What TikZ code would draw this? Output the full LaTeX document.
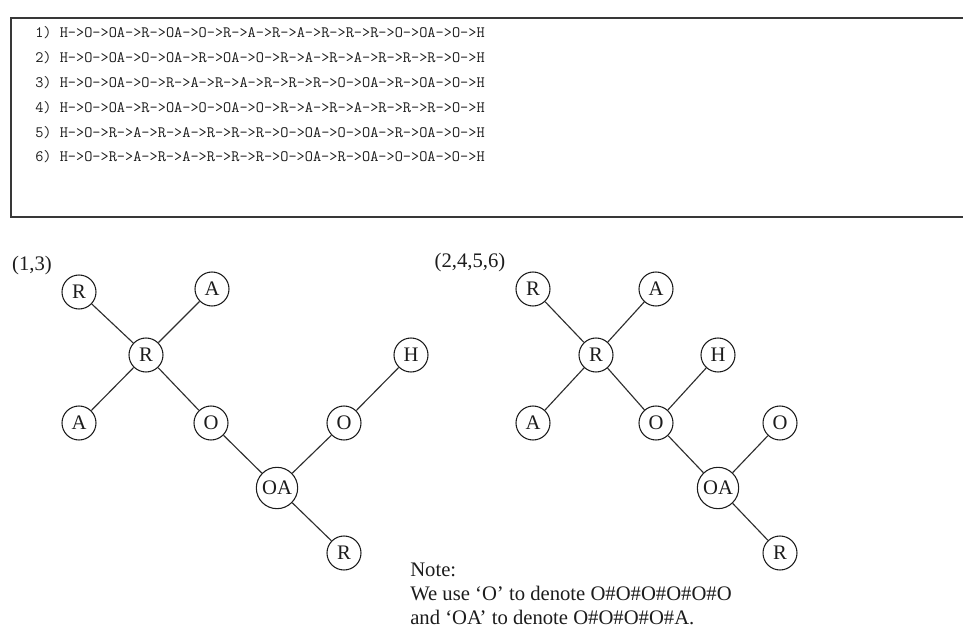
\documentclass[tikz,border=0pt]{standalone}
\usepackage{fontspec}
\setmainfont{Liberation Serif}
\usepackage{xcolor}
\usepackage{tikz}
\usetikzlibrary{positioning}
\definecolor{Ink}{HTML}{1C1C1C}
\definecolor{Frame}{HTML}{383838}
\definecolor{Bond}{HTML}{2E2E2E}

\tikzset{
  seqline/.style={anchor=base west, inner sep=0pt, text=Ink,
    font=\fontsize{11.9}{13}\selectfont\ttfamily},
  atom/.style={circle, draw=Ink, line width=0.8pt, minimum size=25.5pt,
    inner sep=1pt, text=Ink, font=\fontsize{15.5}{18}\selectfont},
  bigatom/.style={atom, minimum size=31pt},
  bond/.style={draw=Bond, line width=0.85pt},
  caption/.style={inner sep=0pt, text=Ink, font=\fontsize{15.5}{18}\selectfont},
}

\begin{document}
\begin{tikzpicture}[x=0.75pt, y=-0.75pt]
  \useasboundingbox (0,0) rectangle (963,630);

  % the six walks, boxed (the frame runs off on the right)
  \draw[Frame, line width=1.4pt] (11,18) rectangle (990,217);
  \foreach \walk [count=\i] in {
      H->O->OA->R->OA->O->R->A->R->A->R->R->R->O->OA->O->H,
      H->O->OA->O->OA->R->OA->O->R->A->R->A->R->R->R->O->H,
      H->O->OA->O->R->A->R->A->R->R->R->O->OA->R->OA->O->H,
      H->O->OA->R->OA->O->OA->O->R->A->R->A->R->R->R->O->H,
      H->O->R->A->R->A->R->R->R->O->OA->O->OA->R->OA->O->H,
      H->O->R->A->R->A->R->R->R->O->OA->R->OA->O->OA->O->H}
    \node[seqline] (walk\i) at (35,{38+24.8*(\i-1)}) {\i) \walk};

  % tree for walks 1 and 3
  \node[caption] (setA) at (32,266) {(1,3)};
  \node[atom] (aRt) at (79,292) {R};
  \node[atom] (aAt) at (212,289) {A};
  \node[atom] (aR) at (146,355) {R};
  \node[atom] (aH) at (411,355) {H};
  \node[atom] (aAb) at (79,423) {A};
  \node[atom] (aO) at (211,423) {O};
  \node[atom] (aOr) at (344,423) {O};
  \node[bigatom] (aOA) at (277,488) {OA};
  \node[atom] (aRb) at (344,553) {R};

  \draw[bond] (aR) -- (aRt);
  \draw[bond] (aR) -- (aAt);
  \draw[bond] (aR) -- (aAb);
  \draw[bond] (aR) -- (aO);
  \draw[bond] (aO) -- (aOA);
  \draw[bond] (aOA) -- (aOr);
  \draw[bond] (aOr) -- (aH);
  \draw[bond] (aOA) -- (aRb);

  % tree for walks 2, 4, 5 and 6
  \node[caption] (setB) at (470,263) {(2,4,5,6)};
  \node[atom] (bRt) at (533,289) {R};
  \node[atom] (bAt) at (656,289) {A};
  \node[atom] (bR) at (596,355) {R};
  \node[atom] (bH) at (718,355) {H};
  \node[atom] (bAb) at (533,423) {A};
  \node[atom] (bO) at (656,423) {O};
  \node[atom] (bOr) at (780,423) {O};
  \node[bigatom] (bOA) at (718,488) {OA};
  \node[atom] (bRb) at (780,553) {R};

  \draw[bond] (bR) -- (bRt);
  \draw[bond] (bR) -- (bAt);
  \draw[bond] (bR) -- (bAb);
  \draw[bond] (bR) -- (bO);
  \draw[bond] (bO) -- (bH);
  \draw[bond] (bO) -- (bOA);
  \draw[bond] (bOA) -- (bOr);
  \draw[bond] (bOA) -- (bRb);

  % note on the abbreviations
  \node[caption, anchor=base west] (note1) at (410,576) {Note:};
  \node[caption, anchor=base west] (note2) at (410,600) {We use ‘O’ to denote O\#O\#O\#O\#O\#O};
  \node[caption, anchor=base west] (note3) at (410,624) {and ‘OA’ to denote O\#O\#O\#O\#A.};
\end{tikzpicture}
\end{document}
